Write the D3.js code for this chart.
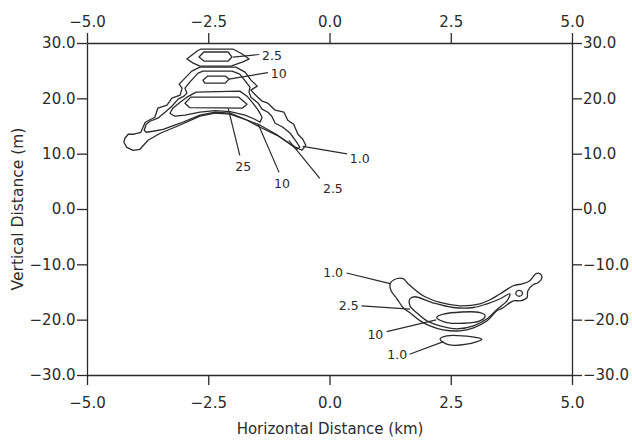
<!DOCTYPE html>
<html>
<head>
<meta charset="utf-8">
<title>Contours</title>
<script src="https://d3js.org/d3.v7.min.js"></script>
<style>
  body { margin: 0; background: #fff; }
  svg text { font-family: "DejaVu Sans", sans-serif; fill: #2b2b2b; }
</style>
</head>
<body>
<svg id="chart" width="632" height="440"></svg>
<script>
// ticks
var xTicks = [-5, -2.5, 0, 2.5, 5];
var xTickLabels = ["−5.0", "−2.5", "0.0", "2.5", "5.0"];
var yTicks = [30, 20, 10, 0, -10, -20, -30];
var yTickLabels = ["30.0", "20.0", "10.0", "0.0", "−10.0", "−20.0", "−30.0"];

// upper group contours, [km, m]
var topOuter = [[-2.94,27.10],[-2.73,28.55],[-2.65,28.91],[-1.99,28.91],[-1.80,28.01],[-1.66,27.10],
  [-1.80,26.56],[-2.03,25.83],[-2.67,25.83],[-2.81,26.37]];
var topInner = [[-2.69,27.46],[-2.59,28.37],[-2.09,28.37],[-2.01,27.46],[-2.09,26.74],[-2.59,26.74]];
var archOuter = [[-4.22,12.78],[-4.15,13.51],[-4.03,13.51],[-3.89,13.87],[-3.80,15.68],[-3.60,16.59],
  [-3.54,18.22],[-3.35,18.76],[-3.25,20.03],[-3.08,20.57],[-3.04,21.84],[-3.10,22.57],[-3.00,23.47],
  [-2.84,24.92],[-2.67,25.65],[-1.93,25.65],[-1.74,24.74],[-1.62,23.29],[-1.49,22.21],[-1.62,21.48],
  [-1.52,20.57],[-1.39,19.49],[-1.27,19.12],[-1.12,17.86],[-0.94,17.49],[-0.86,16.04],[-0.74,15.32],
  [-0.65,13.51],[-0.55,12.60],[-0.49,11.51],[-0.57,10.61],[-0.81,11.69],[-1.08,13.32],[-1.43,14.77],
  [-1.70,16.04],[-2.05,17.13],[-2.36,17.31],[-2.67,16.77],[-3.14,14.96],[-3.49,13.69],[-3.74,12.42],
  [-3.91,10.79],[-4.05,10.61],[-4.18,11.15],[-4.24,12.06]];
var archMid = [[-3.82,14.23],[-3.78,15.32],[-3.70,15.86],[-3.54,16.41],[-3.39,17.49],[-3.25,18.58],
  [-3.12,19.85],[-3.00,20.39],[-2.94,20.94],[-2.98,21.84],[-2.88,22.93],[-2.71,24.56],[-2.61,24.92],
  [-2.01,24.92],[-1.85,24.38],[-1.72,22.93],[-1.64,22.02],[-1.66,21.12],[-1.62,20.21],[-1.47,19.12],
  [-1.39,18.04],[-1.27,17.49],[-1.19,16.77],[-1.12,15.50],[-0.96,14.77],[-0.81,13.69],[-0.69,12.24],
  [-0.61,11.15],[-0.67,10.79],[-0.86,12.06],[-1.10,13.51],[-1.43,15.14],[-1.74,16.22],[-2.05,17.31],
  [-2.36,17.49],[-2.67,16.95],[-3.08,15.50],[-3.43,14.41],[-3.64,14.05],[-3.78,13.87]];
var midBox10 = [[-2.61,23.29],[-2.51,24.02],[-2.15,24.02],[-2.07,23.47],[-2.15,22.75],[-2.57,22.75]];
var arch10 = [[-3.29,17.31],[-3.23,18.22],[-3.08,19.31],[-2.94,20.21],[-2.75,21.12],[-1.85,21.30],
  [-1.70,20.39],[-1.58,19.12],[-1.47,17.86],[-1.39,16.59],[-1.43,15.68],[-1.54,16.22],[-1.74,16.95],
  [-2.05,17.58],[-2.36,17.77],[-2.67,17.49],[-2.98,16.95],[-3.19,16.77]];
var arch25 = [[-2.98,19.12],[-2.86,20.21],[-1.87,20.21],[-1.70,18.94],[-1.80,18.22],[-2.88,18.31]];

// lower group contours, [km, m]
var lowOuter = [[1.27,-14.77],[1.25,-13.50],[1.33,-12.78],[1.52,-12.60],[1.62,-13.50],[1.93,-15.68],
  [2.28,-16.89],[2.69,-17.49],[3.10,-17.13],[3.31,-16.40],[3.52,-15.32],[3.79,-13.87],[3.99,-13.50],
  [4.13,-12.96],[4.20,-12.23],[4.26,-11.69],[4.34,-11.69],[4.38,-12.42],[4.30,-13.32],[4.20,-13.69],
  [4.09,-14.77],[4.07,-16.04],[3.93,-16.59],[3.79,-16.59],[3.58,-17.85],[3.45,-18.40],[3.25,-20.21],
  [2.97,-21.48],[2.69,-22.02],[2.34,-21.84],[2.07,-21.12],[1.87,-20.21],[1.66,-18.76],[1.52,-17.85],
  [1.39,-16.22]];
var lowDot = [[3.91,-14.69],[3.97,-14.96],[3.97,-15.50],[3.91,-15.77],[3.85,-15.50],[3.85,-14.96]];
var lowMid = [[1.66,-16.22],[1.76,-15.86],[2.13,-16.95],[2.55,-17.80],[2.97,-17.80],[3.25,-17.13],
  [3.52,-16.22],[3.72,-15.32],[3.66,-16.59],[3.47,-18.03],[3.25,-19.85],[2.97,-21.12],[2.63,-21.66],
  [2.28,-21.12],[2.01,-20.21],[1.80,-18.76],[1.66,-17.49]];
var low10 = [[2.21,-19.61],[2.35,-19.00],[3.10,-18.71],[3.21,-19.30],[3.10,-20.21],[2.42,-20.52]];
var lowLens = [[2.28,-23.53],[2.42,-22.93],[3.04,-23.24],[3.14,-23.53],[2.83,-24.43],[2.45,-24.50]];

var upperContours = [topOuter, topInner, archOuter, archMid, midBox10, arch10, arch25];
var lowerContours = [lowOuter, lowDot, lowMid, low10, lowLens];

// contour labels: text, leader start (on contour), leader end, label point, anchor
var labelText = ["2.5", "10", "25", "10", "2.5", "1.0", "1.0", "2.5", "10", "1.0"];
var leaderFrom = [[-1.99,27.46],[-2.07,23.47],[-2.09,18.22],[-1.47,15.32],[-0.84,12.42],[-0.55,11.33],
  [1.25,-13.50],[1.66,-18.09],[2.20,-20.03],[2.35,-23.96]];
var leaderTo = [[-1.45,27.92],[-1.27,24.65],[-1.85,9.70],[-1.04,6.62],[-0.20,5.53],[0.36,9.97],
  [0.35,-11.56],[0.66,-17.49],[1.18,-22.15],[1.65,-26.25]];
var labelAt = [[-1.39,27.83],[-1.21,24.56],[-1.78,7.71],[-0.98,4.62],[0.07,3.72],[0.42,9.16],
  [0.28,-11.46],[0.60,-17.49],[1.11,-22.62],[1.60,-26.25]];
var labelAnchor = ["start", "start", "middle", "middle", "middle", "start", "end", "end", "end", "end"];

var ink = "#2b2b2b";
var svg = d3.select("#chart");

var x = d3.scaleLinear().domain([-5, 5]).range([87, 572]);
var y = d3.scaleLinear().domain([-30, 30]).range([375, 43]);

function styleAxis(g, size) {
    g.attr("font-family", "DejaVu Sans, sans-serif")
        .attr("font-size", size)
        .attr("color", ink);
    g.selectAll("path, line").attr("stroke-width", 1.3);
}

svg.append("g")
    .attr("transform", "translate(0,375)")
    .call(d3.axisBottom(x).tickValues(xTicks).tickFormat((d, i) => xTickLabels[i])
        .tickSize(10).tickSizeOuter(0).tickPadding(12))
    .call(styleAxis, 15);

svg.append("g")
    .attr("transform", "translate(0,43)")
    .call(d3.axisTop(x).tickValues(xTicks).tickFormat((d, i) => xTickLabels[i])
        .tickSize(10).tickSizeOuter(0).tickPadding(6))
    .call(styleAxis, 15);

svg.append("g")
    .attr("transform", "translate(87,0)")
    .call(d3.axisLeft(y).tickValues(yTicks).tickFormat((d, i) => yTickLabels[i])
        .tickSize(10).tickSizeOuter(0).tickPadding(1.5))
    .call(styleAxis, 15);

svg.append("g")
    .attr("transform", "translate(572,0)")
    .call(d3.axisRight(y).tickValues(yTicks).tickFormat((d, i) => yTickLabels[i])
        .tickSize(10).tickSizeOuter(0).tickPadding(1))
    .call(styleAxis, 15);

// axis titles
svg.append("text")
    .attr("x", 330).attr("y", 434)
    .attr("text-anchor", "middle")
    .attr("font-size", 15)
    .text("Horizontal Distance (km)");

svg.append("text")
    .attr("transform", "translate(23,209) rotate(-90)")
    .attr("text-anchor", "middle")
    .attr("font-size", 15.5)
    .text("Vertical Distance (m)");

// contours
var sharp = d3.line().x(d => x(d[0])).y(d => y(d[1])).curve(d3.curveLinearClosed);
var smooth = d3.line().x(d => x(d[0])).y(d => y(d[1])).curve(d3.curveCatmullRomClosed.alpha(0.5));

var plot = svg.append("g");

plot.selectAll(".up")
    .data(upperContours)
    .enter().append("path")
    .attr("class", "up")
    .attr("d", d => sharp(d))
    .attr("fill", "none")
    .attr("stroke", ink)
    .attr("stroke-width", 1.3)
    .attr("stroke-linejoin", "round");

plot.selectAll(".low")
    .data(lowerContours)
    .enter().append("path")
    .attr("class", "low")
    .attr("d", d => smooth(d))
    .attr("fill", "none")
    .attr("stroke", ink)
    .attr("stroke-width", 1.3);

// leader lines and labels
plot.selectAll(".leader")
    .data(labelText)
    .enter().append("line")
    .attr("class", "leader")
    .attr("x1", (d, i) => x(leaderFrom[i][0]))
    .attr("y1", (d, i) => y(leaderFrom[i][1]))
    .attr("x2", (d, i) => x(leaderTo[i][0]))
    .attr("y2", (d, i) => y(leaderTo[i][1]))
    .attr("stroke", ink)
    .attr("stroke-width", 1.2);

plot.selectAll(".clabel")
    .data(labelText)
    .enter().append("text")
    .attr("class", "clabel")
    .attr("x", (d, i) => x(labelAt[i][0]))
    .attr("y", (d, i) => y(labelAt[i][1]))
    .attr("dy", "0.36em")
    .attr("text-anchor", (d, i) => labelAnchor[i])
    .attr("font-size", 12.5)
    .text(d => d);
</script>
</body>
</html>
